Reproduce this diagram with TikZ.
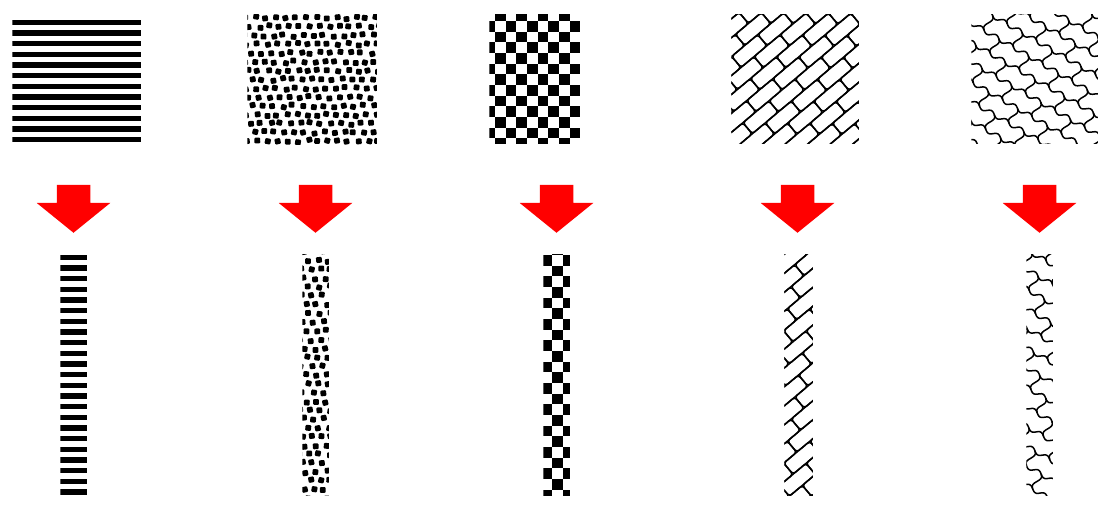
\documentclass[tikz,border=0pt]{standalone}
\usetikzlibrary{shapes.arrows}

\newcommand{\texstripes}[2]{%
  \foreach \k in {1,...,#2}
    \fill (-80,{#1+(\k-1)*10.67}) rectangle ++(160,5.5);}
\newcommand{\texspots}[1]{%
  \pgfmathsetseed{42}
  \foreach \j in {-#1,...,#1}
    \foreach \i in {-10,...,10} {
      \pgfmathsetmacro\spx{\i*10+\j*3.7+rand*1.6}
      \pgfmathsetmacro\spy{\j*8.8+rand*1.4}
      \pgfmathsetmacro\spr{rand*15}
      \fill[rotate around={\spr:(\spx,\spy)}, rounded corners=1pt] (\spx-2.9,\spy-2.9) rectangle ++(5.8,5.8);
    }}
\newcommand{\texchecks}[2]{%
  \foreach \i in {-7,...,7}
    \foreach \j in {-12,...,24} {
      \pgfmathtruncatemacro\odd{mod(\i+\j+100,2)}
      \ifnum\odd=1 \fill ({#1+\i*10.67},{#2+\j*10.67}) rectangle ++(10.67,10.67); \fi
    }}
\newcommand{\texbricks}{%
  \begin{scope}[rotate=40]
    \foreach \j in {-10,...,10}
      \foreach \i in {-5,...,5}
        \draw[rounded corners=3pt] ({\i*34+mod(\j+20,2)*17},\j*14.5) rectangle ++(34,14.5);
  \end{scope}}
\newcommand{\texwaves}{%
  \begin{scope}[rotate=-30]
    \foreach \j in {-9,...,9} {
      \draw plot[domain=-190:190, samples=220, smooth] (\x,{\j*17+2.2*sin(\x/17*360)});
      \foreach \i in {-6,...,5} {
        \pgfmathsetmacro\cx{\i*34+mod(\j+20,2)*17}
        \draw (\cx,\j*17) .. controls (\cx+7,\j*17+5) and (\cx-7,\j*17+12) .. (\cx,\j*17+17);
      }}
  \end{scope}}
\newcommand{\texpanel}[2]{%
  \begin{scope}
    \clip (#1.north west) rectangle (#1.south east);
    \begin{scope}[shift={(#1.center)}] #2 \end{scope}
  \end{scope}}

\begin{document}
\begin{tikzpicture}[x=1pt, y=-1pt, line width=1.5pt,
  square/.style={inner sep=0pt, minimum width=127pt, minimum height=129pt},
  strip/.style={inner sep=0pt, minimum width=25pt, minimum height=240pt},
  bigarrow/.style={single arrow, fill=red, draw=none, rotate=-90, anchor=tail,
    inner xsep=0pt, inner ysep=16pt, single arrow head extend=20pt,
    single arrow tip angle=102, minimum height=48pt, minimum width=0pt}]

  \useasboundingbox (0,0) rectangle (1105,506);

  \node[square] (sq1) at (76.5,79.5) {};
  \node[square, minimum width=128pt] (sq2) at (312,79.5) {};
  \node[square, minimum height=128pt] (sq3) at (553.5,79) {};
  \node[square, minimum width=126pt, minimum height=128pt] (sq4) at (795,79) {};
  \node[square, minimum width=125pt, minimum height=128pt] (sq5) at (1034.5,79) {};

  \node[bigarrow] (ar1) at (73.5,184) {};
  \node[bigarrow] (ar2) at (315.5,184) {};
  \node[bigarrow] (ar3) at (556.5,184) {};
  \node[bigarrow] (ar4) at (797.5,184) {};
  \node[bigarrow] (ar5) at (1039.5,184) {};

  \node[strip] (st1) at (73.5,375) {};
  \node[strip] (st2) at (315.5,375) {};
  \node[strip] (st3) at (556.5,375) {};
  \node[strip, minimum width=27pt] (st4) at (798.5,375) {};
  \node[strip] (st5) at (1039.5,375) {};

  \texpanel{sq1}{\texstripes{-60}{12}}
  \texpanel{sq2}{\texspots{8}}
  \texpanel{sq3}{\texchecks{-58.5}{-58}}
  \texpanel{sq4}{\texbricks}
  \texpanel{sq5}{\texwaves}

  \texpanel{st1}{\texstripes{-120.5}{23}}
  \texpanel{st2}{\texspots{14}}
  \texpanel{st3}{\texchecks{-4.5}{-120}}
  \texpanel{st4}{\texbricks}
  \texpanel{st5}{\texwaves}

\end{tikzpicture}
\end{document}
